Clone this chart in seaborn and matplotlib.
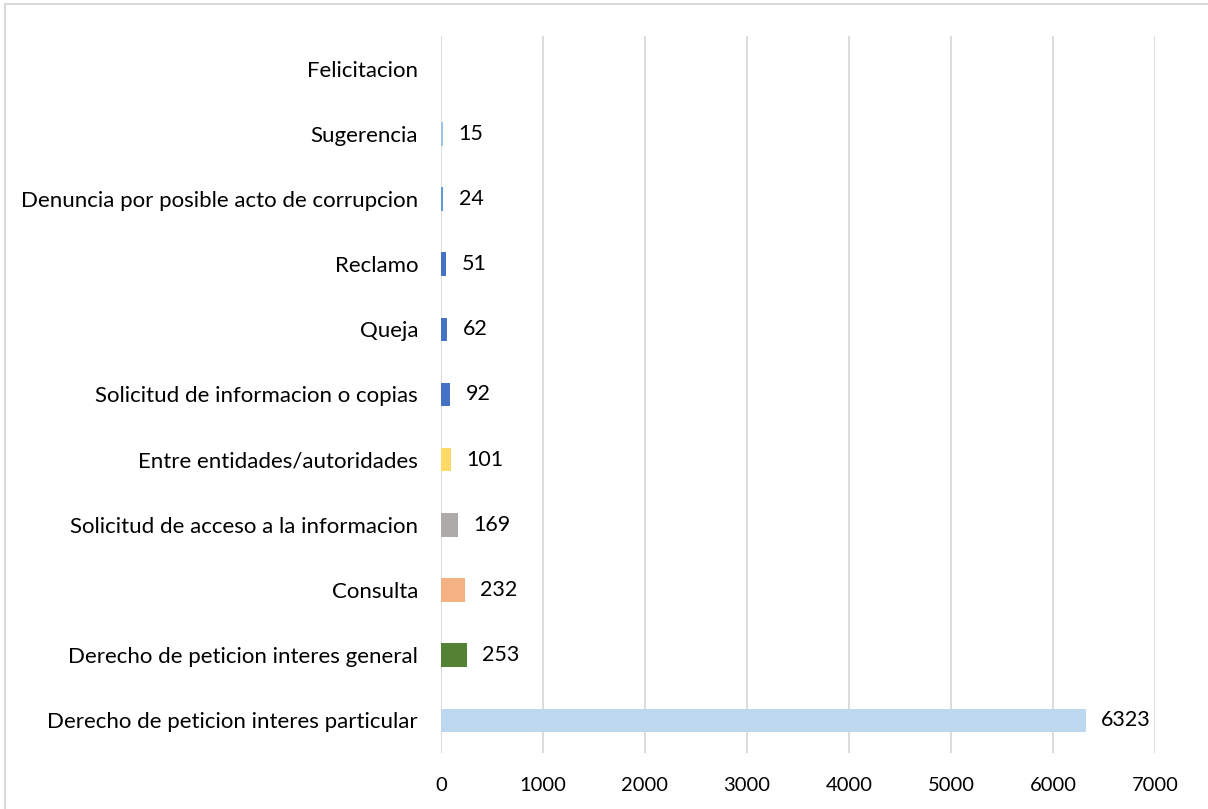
import matplotlib
matplotlib.use("Agg")
import matplotlib.pyplot as plt
import seaborn as sns
import pandas as pd
from matplotlib.patches import Rectangle

categories = [
    "Felicitacion",
    "Sugerencia",
    "Denuncia por posible acto de corrupcion",
    "Reclamo",
    "Queja",
    "Solicitud de informacion o copias",
    "Entre entidades/autoridades",
    "Solicitud de acceso a la informacion",
    "Consulta",
    "Derecho de peticion interes general",
    "Derecho de peticion interes particular",
]
values = [0, 15, 24, 51, 62, 92, 101, 169, 232, 253, 6323]
colors = [
    "#9DC3E6", "#9DC3E6", "#5B9BD5", "#4472C4", "#4472C4", "#4472C4",
    "#FFD966", "#AEAAAA", "#F4B183", "#548235", "#BDD7EE",
]

df = pd.DataFrame({"categoria": categories, "valor": values})

sns.set_theme(style="white")
plt.rcParams["font.family"] = ["Lato", "DejaVu Sans"]

fig = plt.figure(figsize=(12.08, 8.09), dpi=100)
ax = fig.add_axes([441 / 1208, 1 - 753 / 809, (1155 - 441) / 1208, (753 - 36) / 809])

sns.barplot(data=df, x="valor", y="categoria", hue="categoria", palette=colors,
            legend=False, width=0.36, ax=ax, orient="h", saturation=1,
            linewidth=0)

ax.set_xlim(0, 7000)
ax.set_xticks(range(0, 7001, 1000))
ax.set_xlabel("")
ax.set_ylabel("")
ax.xaxis.grid(True, color="#D9D9D9", linewidth=1.3)
ax.set_axisbelow(True)
for s in ax.spines.values():
    s.set_visible(False)
ax.tick_params(axis="x", length=0, pad=17, labelsize=14.5, labelcolor="#000000")
ax.tick_params(axis="y", length=0, pad=16.5, labelsize=16, labelcolor="#000000")

for i, v in enumerate(values):
    if v > 0:
        ax.annotate(str(v), (v, i), xytext=(11, 0), textcoords="offset points",
                    va="center", ha="left", fontsize=15.5, color="#000000")

# outer chart frame
fig.patches.append(Rectangle((5 / 1208, -0.05), 1.1, 1 - 4 / 809 + 0.05,
                             transform=fig.transFigure, fill=False,
                             edgecolor="#D9D9D9", linewidth=1.5))

fig.savefig("out.png", dpi=100)
